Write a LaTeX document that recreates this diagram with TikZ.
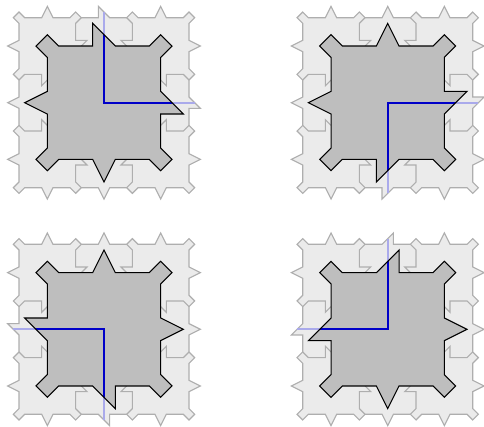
\documentclass[tikz,border=0pt]{standalone}
\definecolor{tilelight}{HTML}{EBEBEB}
\definecolor{tiledark}{HTML}{BEBEBE}
\definecolor{tileedge}{HTML}{AEAEAE}
\definecolor{axisblue}{HTML}{0000C8}
\definecolor{axisfaint}{HTML}{AAAAEB}
\tikzset{
  lightshape/.style={fill=tilelight,draw=tileedge,line width=0.85pt,line join=miter},
  inneredge/.style={draw=tileedge,line width=0.85pt},
  darkshape/.style={draw=black,line width=0.8pt,line join=miter},
  axisfaintline/.style={draw=axisfaint,line width=1.5pt},
  axisline/.style={draw=axisblue,line width=1.7pt}
}
% straight pieces
\def\pTopS{(-0.5,-7.5)--(0,-8.5)--(0.5,-7.5)}
\def\pRightS{(7.5,-0.5)--(8.5,0)--(7.5,0.5)}
\def\pBotS{(0.5,7.5)--(0,8.5)--(-0.5,7.5)}
\def\pLeftS{(-7.5,0.5)--(-8.5,0)--(-7.5,-0.5)}
\def\dTopS{(-1,-5)--(0,-7)--(1,-5)}
\def\dRightS{(5,-1)--(7,0)--(5,1)}
\def\dBotS{(1,5)--(0,7)--(-1,5)}
\def\dLeftS{(-5,1)--(-7,0)--(-5,-1)}
\newcommand{\tilepanel}[2]{%
  \begin{scope}[shift={(#1*0.75pt,-#2*0.75pt)},x=8.5pt,y=-8.5pt]
    \path[lightshape] (-7,-7.5)--(-5.5,-7.5)--(-5,-8.5)--(-4.5,-7.5)--(-3,-7.5)--(-2.5,-8)--(-2,-7.5)--\ptop--(2,-7.5)--(2.5,-8)--(3,-7.5)--(4.5,-7.5)--(5,-8.5)--(5.5,-7.5)--(7,-7.5)--(7.5,-8)--(8,-7.5)--(7.5,-7)--(7.5,-5.5)--(8.5,-5)--(7.5,-4.5)--(7.5,-3)--(8,-2.5)--(7.5,-2)--\pright--(7.5,2)--(8,2.5)--(7.5,3)--(7.5,4.5)--(8.5,5)--(7.5,5.5)--(7.5,7)--(8,7.5)--(7.5,8)--(7,7.5)--(5.5,7.5)--(5,8.5)--(4.5,7.5)--(3,7.5)--(2.5,8)--(2,7.5)--\pbot--(-2,7.5)--(-2.5,8)--(-3,7.5)--(-4.5,7.5)--(-5,8.5)--(-5.5,7.5)--(-7,7.5)--(-7.5,8)--(-8,7.5)--(-7.5,7)--(-7.5,5.5)--(-8.5,5)--(-7.5,4.5)--(-7.5,3)--(-8,2.5)--(-7.5,2)--\pleft--(-7.5,-2)--(-8,-2.5)--(-7.5,-3)--(-7.5,-4.5)--(-8.5,-5)--(-7.5,-5.5)--(-7.5,-7)--(-8,-7.5)--(-7.5,-8)--cycle;
    \foreach \sx in {-1,1}{
      \draw[inneredge] (\sx*2,-7.5)--(\sx*2.5,-7)--(\sx*2.5,-5.5)--(\sx*1.5,-5.5)--(\sx*2,-5);
      \draw[inneredge] (\sx*2,7.5)--(\sx*2.5,7)--(\sx*2.5,5.5)--(\sx*1.5,5.5)--(\sx*2,5);
      \draw[inneredge] (\sx*7.5,-2)--(\sx*7,-2.5)--(\sx*5.5,-2.5)--(\sx*5.5,-1.5)--(\sx*5,-2);
      \draw[inneredge] (\sx*7.5,2)--(\sx*7,2.5)--(\sx*5.5,2.5)--(\sx*5.5,1.5)--(\sx*5,2);
    }
    \draw[axisfaintline] \axisp;
    \def\darkoutline{(-4,-5)--\dtop--(4,-5)--(5,-6)--(6,-5)--(5,-4)--\dright--(5,4)--(6,5)--(5,6)--(4,5)--\dbot--(-4,5)--(-5,6)--(-6,5)--(-5,4)--\dleft--(-5,-4)--(-6,-5)--(-5,-6)--cycle}
    \path[fill=tiledark] \darkoutline;
    \begin{scope}
      \clip \darkoutline;
      \draw[axisline] \axisp;
    \end{scope}
    \path[darkshape] \darkoutline;
  \end{scope}}
\begin{document}
\begin{tikzpicture}
  \useasboundingbox (0,0) rectangle (484*0.75pt,-427*0.75pt);
  % top left
  \def\ptop{(-0.5,-7.5)--(-0.5,-8.5)--(0.5,-7.5)}\def\pright{(7.5,-0.5)--(8.5,0.5)--(7.5,0.5)}\let\pbot\pBotS\let\pleft\pLeftS
  \def\dtop{(-1,-5)--(-1,-7)--(1,-5)}\def\dright{(5,-1)--(7,1)--(5,1)}\let\dbot\dBotS\let\dleft\dLeftS
  \def\axisp{(0,-8)--(0,0)--(8,0)}
  \tilepanel{104}{102.7}
  % top right
  \let\ptop\pTopS\def\pright{(7.5,-0.5)--(8.5,-0.5)--(7.5,0.5)}\def\pbot{(0.5,7.5)--(-0.5,8.5)--(-0.5,7.5)}\let\pleft\pLeftS
  \let\dtop\dTopS\def\dright{(5,-1)--(7,-1)--(5,1)}\def\dbot{(1,5)--(-1,7)--(-1,5)}\let\dleft\dLeftS
  \def\axisp{(8,0)--(0,0)--(0,8)}
  \tilepanel{387.7}{102.7}
  % bottom left
  \let\ptop\pTopS\let\pright\pRightS\def\pbot{(0.5,7.5)--(0.5,8.5)--(-0.5,7.5)}\def\pleft{(-7.5,0.5)--(-8.5,-0.5)--(-7.5,-0.5)}
  \let\dtop\dTopS\let\dright\dRightS\def\dbot{(1,5)--(1,7)--(-1,5)}\def\dleft{(-5,1)--(-7,-1)--(-5,-1)}
  \def\axisp{(-8,0)--(0,0)--(0,8)}
  \tilepanel{104}{329.3}
  % bottom right
  \def\ptop{(-0.5,-7.5)--(0.5,-8.5)--(0.5,-7.5)}\let\pright\pRightS\let\pbot\pBotS\def\pleft{(-7.5,0.5)--(-8.5,0.5)--(-7.5,-0.5)}
  \def\dtop{(-1,-5)--(1,-7)--(1,-5)}\let\dright\dRightS\let\dbot\dBotS\def\dleft{(-5,1)--(-7,1)--(-5,-1)}
  \def\axisp{(0,-8)--(0,0)--(-8,0)}
  \tilepanel{387.7}{329.3}
\end{tikzpicture}
\end{document}
